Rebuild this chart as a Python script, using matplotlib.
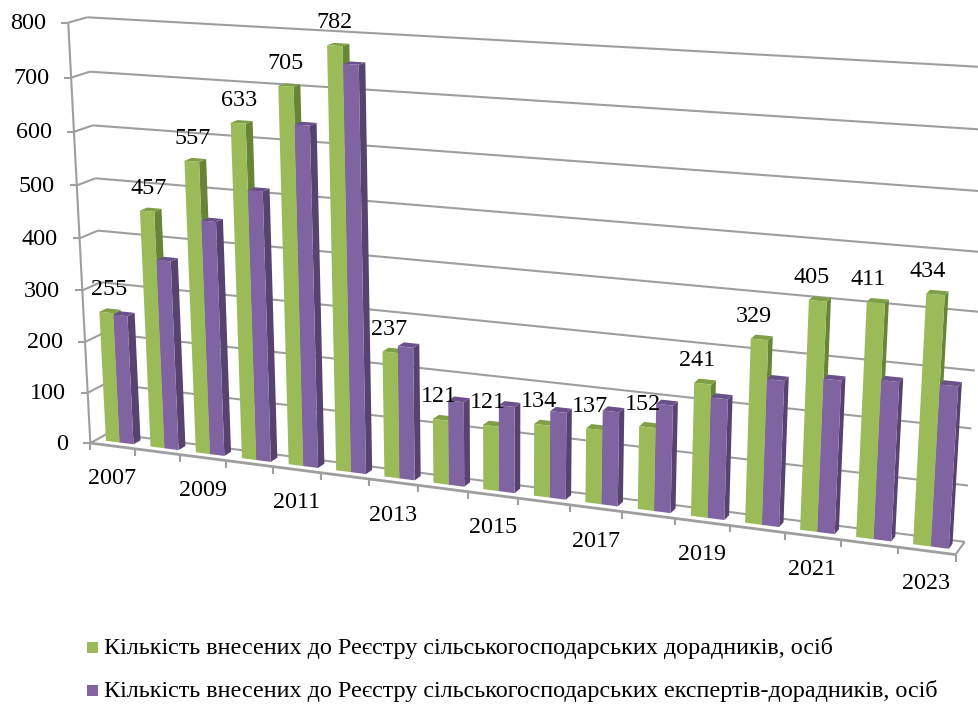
#!/usr/bin/env python3
import numpy as np
import matplotlib
matplotlib.use("Agg")
import matplotlib.pyplot as plt
from matplotlib.patches import Polygon, Rectangle

plt.rcParams['font.family'] = ['Liberation Serif', 'DejaVu Serif']

years = list(range(2007, 2024))
advisers = [255, 457, 557, 633, 705, 782, 237, 121, 121, 134, 137, 152, 241, 329, 405, 411, 434]
experts = [252, 366, 448, 512, 638, 751, 250, 159, 161, 161, 173, 196, 218, 261, 272, 280, 283]
y_ticks = [0, 100, 200, 300, 400, 500, 600, 700, 800]
legend_labels = [
    'Кількість внесених до Реєстру сільськогосподарських дорадників, осіб',
    'Кількість внесених до Реєстру сільськогосподарських експертів-дорадників, осіб',
]

GREEN = ('#9BBB59', '#6A8437', '#7F9E45')
PURPLE = ('#8064A2', '#574370', '#6A5189')
GRID = '#9E9E9E'

# Excel style 3D box: (category, depth, value) -> where it lands in the 979x704 image
n = len(years)
left_front_y = [443, 393, 342, 290, 238, 185, 132, 78, 23]
left_front_x = [91, 89, 87, 82, 80, 76, 73, 72, 67]
left_back_y = [434, 386, 334, 282, 230, 178, 125, 71, 16]
left_back_x = [107, 105, 103, 101, 99, 97, 93, 89, 87]
tick_x = [91, 135, 180, 226, 273, 320, 368, 417, 467, 518, 569, 622, 675, 730, 784, 841, 898, 957]

refs = []
for v, px, py in zip(y_ticks, left_front_x, left_front_y):
    refs.append((0, 0, v, px, py))
for v, px, py in zip(y_ticks, left_back_x, left_back_y):
    refs.append((0, 1, v, px, py))
for k, px in enumerate(tick_x):
    refs.append((k, 0, 0, px, 443 + (px - 91) * 0.1293))
refs += [(n, 1, 0, 964, 541), (n, 1, 100, 968, 485), (n, 1, 200, 972, 428),
         (n, 1, 300, 975, 369), (n, 1, 400, 978, 311), (n, 1, 800, 993, 71)]


def fit_camera(points):
    rows = []
    for x, z, v, px, py in points:
        w = [x / n, z, v / 800, 1]
        rows.append(w + [0, 0, 0, 0] + [-px * c for c in w])
        rows.append([0, 0, 0, 0] + w + [-py * c for c in w])
    _, _, vt = np.linalg.svd(np.array(rows))
    return vt[-1].reshape(3, 4)


CAM = fit_camera(refs)


def project(x, z, v):
    p = CAM @ np.array([x / n, z, v / 800, 1])
    return p[0] / p[2], p[1] / p[2]


def draw_bar(ax, k, x0, x1, z0, z1, value, colors, zorder):
    a, b = k + x0, k + x1
    front = [project(a, z0, 0), project(b, z0, 0), project(b, z0, value), project(a, z0, value)]
    side = [project(b, z0, 0), project(b, z1, 0), project(b, z1, value), project(b, z0, value)]
    top = [project(a, z0, value), project(b, z0, value), project(b, z1, value), project(a, z1, value)]
    ax.add_patch(Polygon(side, fc=colors[1], ec='none', zorder=zorder))
    ax.add_patch(Polygon(top, fc=colors[2], ec='none', zorder=zorder))
    ax.add_patch(Polygon(front, fc=colors[0], ec='none', zorder=zorder))


def line(ax, a, b, lw=1.5):
    ax.plot([a[0], b[0]], [a[1], b[1]], color=GRID, lw=lw, zorder=1, solid_capstyle='butt')


fig = plt.figure(figsize=(9.79, 7.04), dpi=100)
ax = fig.add_axes([0, 0, 1, 1])
ax.set_xlim(0, 979)
ax.set_ylim(704, 0)
ax.axis('off')
ax.autoscale(False)

# walls and floor
line(ax, project(0, 0, 0), project(0, 0, 800))
for v in y_ticks:
    front = project(0, 0, v)
    line(ax, front, project(0, 1, v))
    line(ax, project(0, 1, v), project(n, 1, v))
    line(ax, (front[0] - 7, front[1]), front)
    ax.text(front[0] - 22, front[1] + 1, str(v), ha='right', va='center', fontsize=17.4, zorder=5)
line(ax, project(0, 0, 0), project(n, 0, 0), lw=2)
line(ax, project(n, 0, 0), project(n, 1, 0))
for k in range(n + 1):
    p = project(k, 0, 0)
    line(ax, p, (p[0], p[1] + 7))

# bars, left to right
gap, width, z0, z1 = 0.21, 0.31, 0.35, 0.75
for k in range(n):
    draw_bar(ax, k, gap, gap + width, z0, z1, advisers[k], GREEN, 2 + k * 0.01)
    draw_bar(ax, k, gap + width, gap + 2 * width, z0, z1, experts[k], PURPLE, 2 + k * 0.01 + 0.005)
    px, py = project(k + gap + width / 2, z0, advisers[k])
    ax.text(px + 2.5 - 0.65 * k, py - 23, str(advisers[k]), ha='center', va='center', fontsize=17.4, zorder=6)

for k in range(0, n, 2):
    px, py = project(k + 0.5, 0, 0)
    ax.text(px, py + 33, str(years[k]), ha='center', va='center', fontsize=17.4, zorder=5)

# legend
for label, y, colors in zip(legend_labels, [648, 691], [GREEN, PURPLE]):
    ax.add_patch(Rectangle((87, y - 6), 11, 11, fc=colors[0], ec='none'))
    ax.text(104, y, label, ha='left', va='center', fontsize=17.35)

fig.savefig('out.png', dpi=100)
